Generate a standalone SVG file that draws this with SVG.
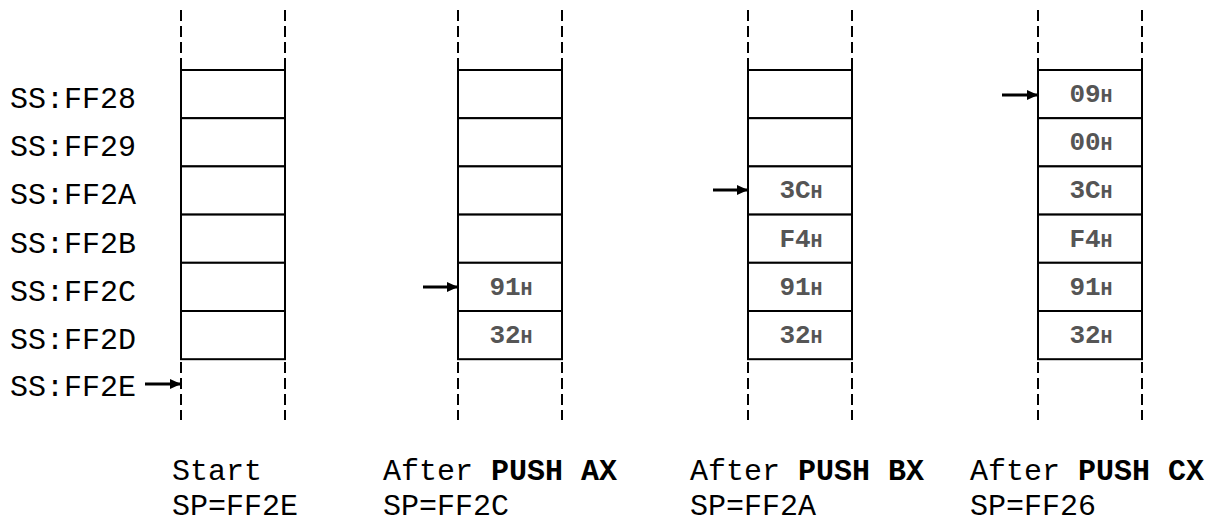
<svg xmlns="http://www.w3.org/2000/svg" width="1231" height="523" viewBox="0 0 1231 523">
<style>
.dash{stroke:#000;stroke-width:2;stroke-dasharray:11,5;fill:none}
.cell{fill:#fff;stroke:#000;stroke-width:2}
.lbl{font-family:"Liberation Mono",monospace;font-size:30px;fill:#000}
.val{font-family:"Liberation Mono",monospace;font-size:26px;font-weight:bold;fill:#555;text-anchor:middle}
.h{font-size:20px}
.b{font-weight:bold}
.arr{stroke:#000;stroke-width:3;fill:none;marker-end:url(#ah)}
</style>
<defs>
<marker id="ah" markerWidth="11" markerHeight="10" refX="10" refY="5" orient="auto" markerUnits="userSpaceOnUse">
<path d="M0,0 L11,5 L0,10 Z" fill="#000"/>
</marker>
</defs>
<rect width="1231" height="523" fill="#fff"/>
<g id="addresses" class="lbl">
<text x="10" y="108">SS:FF28</text>
<text x="10" y="156">SS:FF29</text>
<text x="10" y="204">SS:FF2A</text>
<text x="10" y="253">SS:FF2B</text>
<text x="10" y="301">SS:FF2C</text>
<text x="10" y="349">SS:FF2D</text>
<text x="10" y="396">SS:FF2E</text>
</g>
<g id="stack-start">
<line class="dash" x1="181" y1="10" x2="181" y2="420"/>
<line class="dash" x1="285" y1="10" x2="285" y2="420"/>
<rect class="cell" x="181" y="70" width="104" height="48.2"/>
<rect class="cell" x="181" y="118.2" width="104" height="48.2"/>
<rect class="cell" x="181" y="166.4" width="104" height="48.2"/>
<rect class="cell" x="181" y="214.6" width="104" height="48.2"/>
<rect class="cell" x="181" y="262.8" width="104" height="48.2"/>
<rect class="cell" x="181" y="311" width="104" height="48.2"/>
<text class="lbl" x="172" y="480">Start</text>
<text class="lbl" x="172" y="515">SP=FF2E</text>
</g>
<g id="stack-pushax">
<line class="dash" x1="458" y1="10" x2="458" y2="420"/>
<line class="dash" x1="562" y1="10" x2="562" y2="420"/>
<rect class="cell" x="458" y="70" width="104" height="48.2"/>
<rect class="cell" x="458" y="118.2" width="104" height="48.2"/>
<rect class="cell" x="458" y="166.4" width="104" height="48.2"/>
<rect class="cell" x="458" y="214.6" width="104" height="48.2"/>
<rect class="cell" x="458" y="262.8" width="104" height="48.2"/>
<rect class="cell" x="458" y="311" width="104" height="48.2"/>
<text class="val" x="511" y="295">91<tspan class="h">H</tspan></text>
<text class="val" x="511" y="343">32<tspan class="h">H</tspan></text>
<text class="lbl" x="383" y="480">After <tspan class="b">PUSH AX</tspan></text>
<text class="lbl" x="383" y="515">SP=FF2C</text>
</g>
<g id="stack-pushbx">
<line class="dash" x1="748" y1="10" x2="748" y2="420"/>
<line class="dash" x1="852" y1="10" x2="852" y2="420"/>
<rect class="cell" x="748" y="70" width="104" height="48.2"/>
<rect class="cell" x="748" y="118.2" width="104" height="48.2"/>
<rect class="cell" x="748" y="166.4" width="104" height="48.2"/>
<rect class="cell" x="748" y="214.6" width="104" height="48.2"/>
<rect class="cell" x="748" y="262.8" width="104" height="48.2"/>
<rect class="cell" x="748" y="311" width="104" height="48.2"/>
<text class="val" x="801" y="198">3C<tspan class="h">H</tspan></text>
<text class="val" x="801" y="247">F4<tspan class="h">H</tspan></text>
<text class="val" x="801" y="295">91<tspan class="h">H</tspan></text>
<text class="val" x="801" y="343">32<tspan class="h">H</tspan></text>
<text class="lbl" x="690" y="480">After <tspan class="b">PUSH BX</tspan></text>
<text class="lbl" x="690" y="515">SP=FF2A</text>
</g>
<g id="stack-pushcx">
<line class="dash" x1="1038" y1="10" x2="1038" y2="420"/>
<line class="dash" x1="1142" y1="10" x2="1142" y2="420"/>
<rect class="cell" x="1038" y="70" width="104" height="48.2"/>
<rect class="cell" x="1038" y="118.2" width="104" height="48.2"/>
<rect class="cell" x="1038" y="166.4" width="104" height="48.2"/>
<rect class="cell" x="1038" y="214.6" width="104" height="48.2"/>
<rect class="cell" x="1038" y="262.8" width="104" height="48.2"/>
<rect class="cell" x="1038" y="311" width="104" height="48.2"/>
<text class="val" x="1091" y="102">09<tspan class="h">H</tspan></text>
<text class="val" x="1091" y="150">00<tspan class="h">H</tspan></text>
<text class="val" x="1091" y="198">3C<tspan class="h">H</tspan></text>
<text class="val" x="1091" y="247">F4<tspan class="h">H</tspan></text>
<text class="val" x="1091" y="295">91<tspan class="h">H</tspan></text>
<text class="val" x="1091" y="343">32<tspan class="h">H</tspan></text>
<text class="lbl" x="970" y="480">After <tspan class="b">PUSH CX</tspan></text>
<text class="lbl" x="970" y="515">SP=FF26</text>
</g>
<g id="connectors">
<line class="arr" x1="145" y1="384" x2="180" y2="384"/>
<line class="arr" x1="423" y1="287" x2="457" y2="287"/>
<line class="arr" x1="713" y1="190" x2="747" y2="190"/>
<line class="arr" x1="1002" y1="95" x2="1037" y2="95"/>
</g>
</svg>
